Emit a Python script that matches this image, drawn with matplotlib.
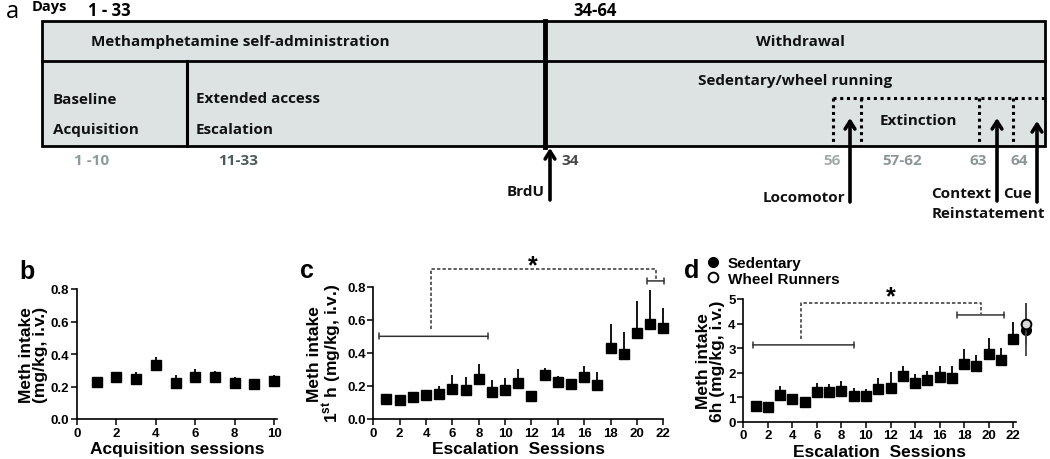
import numpy as np
import matplotlib
matplotlib.use("Agg")
import matplotlib.pyplot as plt

plt.rcParams['font.family'] = ['Liberation Sans', 'DejaVu Sans']
plt.rcParams['mathtext.fontset'] = 'custom'
plt.rcParams['mathtext.rm'] = 'Liberation Sans'
plt.rcParams['mathtext.bf'] = 'Liberation Sans:bold'

# ---------------- data ----------------
b_sessions = [1, 2, 3, 4, 5, 6, 7, 8, 9, 10]
b_mean = [0.23, 0.258, 0.248, 0.334, 0.22, 0.26, 0.258, 0.223, 0.213, 0.232]
b_err = [0.012, 0.025, 0.04, 0.05, 0.05, 0.05, 0.04, 0.033, 0.035, 0.04]

c_sessions = list(range(1, 23))
c_mean = [0.12, 0.112, 0.135, 0.145, 0.153, 0.184, 0.178, 0.243, 0.161, 0.178, 0.218,
          0.139, 0.265, 0.222, 0.21, 0.254, 0.206, 0.431, 0.393, 0.522, 0.577, 0.551]
c_err = [0.029, 0.005, 0.025, 0.033, 0.047, 0.083, 0.077, 0.09, 0.074, 0.071, 0.082,
         0.005, 0.041, 0.036, 0.012, 0.068, 0.076, 0.144, 0.131, 0.194, 0.205, 0.122]

d_sessions = list(range(1, 23))
d_mean = [0.65, 0.61, 1.10, 0.91, 0.79, 1.19, 1.20, 1.27, 1.06, 1.04, 1.35,
          1.39, 1.86, 1.57, 1.68, 1.81, 1.79, 2.36, 2.25, 2.77, 2.50, 3.38]
d_err = [0.21, 0.03, 0.35, 0.18, 0.08, 0.38, 0.34, 0.39, 0.33, 0.31, 0.44,
         0.63, 0.43, 0.38, 0.37, 0.45, 0.47, 0.59, 0.45, 0.65, 0.52, 0.69]
d_final_session = 23
d_sed_final, d_sed_final_err = 3.75, 1.08
d_wheel_final, d_wheel_final_err = 3.97, 0.85

# significance brackets: (x_start, x_end, y)
c_bar_left = (0.45, 8.7, 0.50)
c_bar_right = (20.8, 22.05, 0.835)
c_link = (4.35, 21.45, 0.905)
c_star = (12.1, 0.93)
d_bar_left = (0.77, 9.05, 3.13)
d_bar_right = (17.45, 21.27, 4.35)
d_link = (4.7, 19.35, 4.84)
d_star = (12.0, 5.12)

W, H = 1050, 460
fig = plt.figure(figsize=(W / 100, H / 100), dpi=100)

# ---------------- panel a (timeline diagram, pixel layout) ----------------
axa = fig.add_axes([0, 0, 1, 1])
axa.set_xlim(0, W)
axa.set_ylim(H, 0)
axa.axis('off')

DIA = ['Open Sans', 'DejaVu Sans']
box_fc = '#dde3e3'
bx0, bx1, by0, bymid, by1 = 42, 1045, 22, 62, 147
axa.add_patch(plt.Rectangle((bx0, by0), bx1 - bx0, by1 - by0, facecolor=box_fc,
                            edgecolor='black', lw=2, zorder=1))
axa.plot([bx0, bx1], [bymid, bymid], color='black', lw=2, zorder=2)
axa.plot([545, 545], [by0, by1 + 1], color='black', lw=3.5, zorder=3)
axa.plot([187, 187], [bymid, by1], color='black', lw=2.2, zorder=2)
# dotted sub boxes
dot_kw = dict(color='black', lw=2.2, ls=(0, (1, 1.2)), zorder=2)
axa.plot([833, bx1], [99, 99], **dot_kw)
for xv in [833, 861, 979, 1013]:
    axa.plot([xv, xv], [99, by1], **dot_kw)

tkw = dict(family=DIA, fontweight='bold', fontsize=11, color='#111111')
axa.text(240, 42, 'Methamphetamine self-administration', ha='center', va='center', **tkw)
axa.text(800, 42, 'Withdrawal', ha='center', va='center', **tkw)
axa.text(53, 100, 'Baseline', ha='left', va='center', **tkw)
axa.text(53, 130, 'Acquisition', ha='left', va='center', **tkw)
axa.text(196, 99, 'Extended access', ha='left', va='center', **tkw)
axa.text(196, 130, 'Escalation', ha='left', va='center', **tkw)
axa.text(795, 81, 'Sedentary/wheel running', ha='center', va='center', **tkw)
axa.text(918, 121, 'Extinction', ha='center', va='center', **tkw)

axa.text(12, 12, 'a', ha='center', va='center', fontsize=17, family=DIA)
axa.text(32, 7, 'Days', ha='left', va='center', family=DIA, fontweight='bold', fontsize=10.5)
axa.text(88, 11, '1 - 33', ha='left', va='center', family=DIA, fontweight='bold', fontsize=12)
axa.text(573, 11, '34-64', ha='left', va='center', family=DIA, fontweight='bold', fontsize=12)

dkw = dict(family=DIA, fontweight='bold', fontsize=11, va='center')
axa.text(92, 161, '1 -10', ha='center', color='#8c9c9c', **dkw)
axa.text(238, 161, '11-33', ha='center', color='#4d5a5a', **dkw)
axa.text(561, 161, '34', ha='left', color='#4a4a4a', **dkw)
axa.text(832, 161, '56', ha='center', color='#a3abab', **dkw)
axa.text(902, 161, '57-62', ha='center', color='#8c9696', **dkw)
axa.text(978, 161, '63', ha='center', color='#8c9696', **dkw)
axa.text(1019, 161, '64', ha='center', color='#8c9696', **dkw)

akw = dict(arrowstyle='->,head_length=0.55,head_width=0.35', lw=2.6, color='black',
           shrinkA=0, shrinkB=0)
for xa, ytop, ybot in [(550, 149, 201), (850, 119, 203), (997, 119, 202), (1037, 122, 203)]:
    axa.annotate('', xy=(xa, ytop), xytext=(xa, ybot), arrowprops=akw)
lkw = dict(family=DIA, fontweight='bold', fontsize=11, color='#111111', va='center')
axa.text(545, 192, 'BrdU', ha='right', **lkw)
axa.text(845, 198, 'Locomotor', ha='right', **lkw)
axa.text(991, 194, 'Context', ha='right', **lkw)
axa.text(1032, 194, 'Cue', ha='right', **lkw)
axa.text(988, 214, 'Reinstatement', ha='center', **lkw)


# ---------------- panels b, c, d ----------------
def style(ax):
    for s in ['top', 'right']:
        ax.spines[s].set_visible(False)
    for s in ['left', 'bottom']:
        ax.spines[s].set_linewidth(1.2)
    ax.tick_params(direction='out', length=4, width=1.1, labelsize=9.5, pad=1.5)
    for lab in ax.get_xticklabels() + ax.get_yticklabels():
        lab.set_fontweight('bold')


def plot_series(ax, x, m, e):
    ax.errorbar(x, m, yerr=[np.zeros(len(e)), e], fmt='s', ms=6.8, color='black',
                ecolor='black', elinewidth=1.3, capsize=0, clip_on=False, zorder=3)


def bracket(ax, bar):
    x0, x1, y = bar
    ax.annotate('', xy=(x0, y), xytext=(x1, y),
                arrowprops=dict(arrowstyle='|-|,widthA=0.22,widthB=0.22', lw=1.1,
                                color='#333333', shrinkA=0, shrinkB=0),
                annotation_clip=False)


lab_kw = dict(fontsize=12.5, fontweight='bold')

# b
axb = fig.add_axes([77 / W, 40 / H, 200 / W, 130 / H])
plot_series(axb, b_sessions, b_mean, b_err)
axb.set_xlim(0, 10.15)
axb.set_ylim(0, 0.8)
axb.set_xticks([0, 2, 4, 6, 8, 10])
axb.set_yticks([0, 0.2, 0.4, 0.6, 0.8])
axb.set_yticklabels(['0.0', '0.2', '0.4', '0.6', '0.8'])
axb.set_xlabel('Acquisition sessions', labelpad=2, **lab_kw)
axb.set_ylabel('Meth intake\n(mg/kg, i.v.)', labelpad=2, linespacing=0.95, **lab_kw)
style(axb)

# c
axc = fig.add_axes([373.3 / W, 40 / H, 290 / W, 132.3 / H])
plot_series(axc, c_sessions, c_mean, c_err)
axc.set_xlim(0, 22)
axc.set_ylim(0, 0.8)
axc.set_xticks(list(range(0, 23, 2)))
axc.set_yticks([0, 0.2, 0.4, 0.6, 0.8])
axc.set_yticklabels(['0.0', '0.2', '0.4', '0.6', '0.8'])
axc.set_xlabel('Escalation  Sessions', labelpad=2, **lab_kw)
axc.set_ylabel('Meth intake\n1$^{\\mathbf{st}}$ h (mg/kg, i.v.)', labelpad=2,
               linespacing=0.95, **lab_kw)
style(axc)
bracket(axc, c_bar_left)
bracket(axc, c_bar_right)
dash = dict(color='#333333', lw=1.1, ls=(0, (2.2, 1.4)), clip_on=False)
lx0, lx1, ly = c_link
axc.plot([lx0, lx0, lx1, lx1], [c_bar_left[2] + 0.045, ly, ly, c_bar_right[2]], **dash)
axc.text(c_star[0], c_star[1], '*', ha='center', va='center', fontsize=18, fontweight='bold')

# d
axd = fig.add_axes([743.3 / W, 37.3 / H, 273 / W, 122.7 / H])
plot_series(axd, d_sessions, d_mean, d_err)
axd.errorbar([d_final_session], [d_sed_final], yerr=[[d_sed_final_err], [d_sed_final_err]],
             fmt='o', ms=7, color='black', ecolor='#444444', elinewidth=1.3, capsize=0,
             clip_on=False, zorder=3)
axd.errorbar([d_final_session], [d_wheel_final], yerr=[[d_wheel_final_err], [d_wheel_final_err]],
             fmt='o', ms=7, mfc='#d9d9d9', mec='black', mew=1.4, ecolor='#444444',
             elinewidth=1.3, capsize=0, clip_on=False, zorder=4)
axd.set_xlim(0, 22.25)
axd.set_ylim(0, 5)
axd.set_xticks(list(range(0, 23, 2)))
axd.set_yticks([0, 1, 2, 3, 4, 5])
axd.set_xlabel('Escalation  Sessions', labelpad=2, **lab_kw)
axd.set_ylabel('Meth intake\n6h (mg/kg, i.v.)', labelpad=2, linespacing=0.95, **lab_kw)
style(axd)
bracket(axd, d_bar_left)
bracket(axd, d_bar_right)
lx0, lx1, ly = d_link
axd.plot([lx0, lx0, lx1, lx1], [d_bar_left[2] + 0.22, ly, ly, d_bar_right[2] + 0.03], **dash)
axd.text(d_star[0], d_star[1], '*', ha='center', va='center', fontsize=18, fontweight='bold')

handles = [plt.Line2D([], [], marker='o', ls='none', ms=7, color='black'),
           plt.Line2D([], [], marker='o', ls='none', ms=7, mfc='white', mec='black', mew=1.4)]
axd.legend(handles, ['Sedentary', 'Wheel Runners'], loc='upper left',
           bbox_to_anchor=(-0.135, 1.35), frameon=False, handlelength=0.8,
           handletextpad=0.6, labelspacing=0.1, borderpad=0, borderaxespad=0,
           prop=dict(weight='bold', size=11))

# panel letters
for lx, ly_, t in [(27, 272, 'b'), (307, 271, 'c'), (692, 271, 'd')]:
    fig.text(lx / W, 1 - ly_ / H, t, ha='center', va='center', fontsize=18, fontweight='bold')

fig.savefig('out.png', dpi=100)
